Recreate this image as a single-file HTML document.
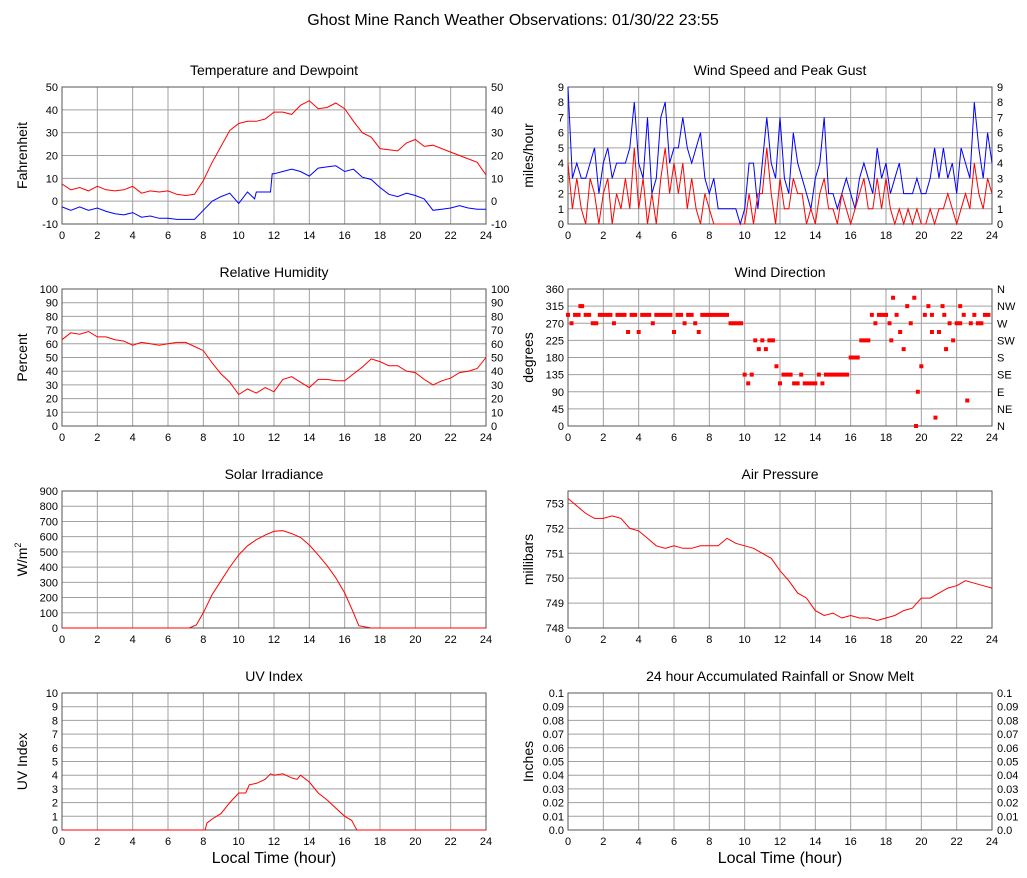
<!DOCTYPE html>
<html><head><meta charset="utf-8"><style>
body{margin:0;background:#fff;}
svg{display:block;font-family:"Liberation Sans",sans-serif;}
</style></head><body>
<svg id="c" width="1027" height="878" viewBox="0 0 1027 878" xmlns="http://www.w3.org/2000/svg">
<text x="513" y="25" font-size="16" text-anchor="middle">Ghost Mine Ranch Weather Observations: 01/30/22 23:55</text>
</svg>
<script>
// ---- data ----
const halfHours = [];
for (let i = 0; i <= 48; i++) halfHours.push(i / 2);
const quarterHours = [];
for (let i = 0; i <= 96; i++) quarterHours.push(i / 4);
const temperature = [7.5,5,6,4.5,6.5,5,4.5,5,6.5,3.5,4.5,4,4.5,3,2.5,3,9,17,24,31,34,35,35,36,39,39,38,42,44,40.5,41,43,40.5,35,30,28,23,22.5,22,25.5,27,24,24.5,23,21.5,20,18.5,17,11.5];
const dewHours = [0,0.5,1,1.5,2,2.5,3,3.5,4,4.5,5,5.5,6,6.5,7,7.5,8,8.5,9,9.5,10,10.5,10.9,11,11.5,11.8,11.9,12,12.5,13,13.5,14,14.5,15,15.5,16,16.5,17,17.5,18,18.5,19,19.5,20,20.5,21,21.5,22,22.5,23,23.5,24];
const dewpoint = [-2.5,-4,-2.5,-4,-3,-4.5,-5.5,-6,-5,-7,-6.5,-7.5,-7.5,-8,-8,-8,-4,0,2,3.5,-1,4,1,4,4,4,12,12,13,14,13,11,14.5,15,15.5,13,14,10.5,9.5,6,3,2,3.5,2.5,1,-4,-3.5,-3,-2,-3,-3.5,-3.5];
const humidity = [63,68,67,69,65,65,63,62,59,61,60,59,60,61,61,58,55,46,38,32,23,27,24,28,25,34,36,32,28,34,34,33,33,38,43,49,47,44,44,40,39,34,30,33,35,39,40,42,50];
const windGust = [9,3,4,3,3,4,5,2,4,5,3,4,4,4,5,8,4,3,7,2,3,7,8,4,5,5,7,5,4,5,6,3,2,3,1,1,1,1,1,0,1,4,4,1,4,7,4,3,7,3,2,6,4,3,2,1,3,4,7,2,2,1,2,3,2,1,3,4,3,2,5,3,4,2,3,4,2,2,2,3,2,2,3,5,3,5,3,4,2,5,4,3,8,5,3,6,4];
const windSpeed = [4,1,3,1,0,3,2,0,2,3,0,2,1,3,1,5,1,3,0,2,0,3,5,2,4,2,4,1,3,1,0,2,1,0,0,0,0,0,0,0,0,2,0,2,2,5,2,0,3,1,1,3,2,2,0,1,0,2,3,1,1,0,2,1,0,1,2,3,1,1,3,1,3,1,0,1,0,1,0,1,0,0,1,0,1,1,2,1,0,1,2,1,4,2,1,3,2];
const windDir = [292,270,292,292,315, 292,292,270,270,292, 292,292,292,270,292, 292,292,247,292,292, 247,292,292,292,270, 292,292,292,292,292, 247,292,292,270,292, 292,270,247,292,292, 292,292,292,292,292, 292,270,270,270,270, 135,112,135,225,202, 225,202,225,225,157, 112,135,135,135,112, 112,135,112,112,112, 112,135,112,135,135, 135,135,135,135,135, 180,180,180,225,225, 225,292,270,292,292, 292,270,337,292,247, 202,315,270,337,90, 157,292,315,247,22, 247,315,202,270,225, 270,315,292,67,270, 292,270,270,292,292];
const windDirExtraHours = [19.7,0.7,18.3,20.6,21.3,22.2];
const windDirExtra = [0,315,225,292,292,270];
const solarHours = [0,7.2,7.6,8,8.5,9,9.5,10,10.5,11,11.5,12,12.5,13,13.5,14,14.5,15,15.5,16,16.5,16.8,17.5,24];
const solar = [0,0,20,100,220,310,400,480,540,580,610,635,640,620,595,545,480,410,330,230,100,15,0,0];
const uvHours = [0,8.1,8.2,8.5,9,9.5,10,10.4,10.6,11,11.5,11.8,12,12.5,13,13.3,13.5,14,14.5,15,15.5,16,16.4,16.6,16.7,24];
const uv = [0,0,0.5,0.8,1.2,2,2.7,2.7,3.3,3.4,3.7,4.1,4.0,4.1,3.8,3.7,4.0,3.5,2.7,2.2,1.6,1.0,0.7,0.2,0,0];
const pressure = [753.2,752.9,752.6,752.4,752.4,752.5,752.4,752,751.9,751.6,751.3,751.2,751.3,751.2,751.2,751.3,751.3,751.3,751.6,751.4,751.3,751.2,751.0,750.8,750.3,749.9,749.4,749.2,748.7,748.5,748.6,748.4,748.5,748.4,748.4,748.3,748.4,748.5,748.7,748.8,749.2,749.2,749.4,749.6,749.7,749.9,749.8,749.7,749.6];
const xTicks = [0,2,4,6,8,10,12,14,16,18,20,22,24];
const tempTicks = [-10,0,10,20,30,40,50];
const windTicks = [0,1,2,3,4,5,6,7,8,9];
const humTicks = [0,10,20,30,40,50,60,70,80,90,100];
const dirTicks = [0,45,90,135,180,225,270,315,360];
const dirLabels = ['N','NE','E','SE','S','SW','W','NW','N'];
const solarTicks = [0,100,200,300,400,500,600,700,800,900];
const pressTicks = [748,749,750,751,752,753];
const uvTicks = [0,1,2,3,4,5,6,7,8,9,10];
const rainTicks = [0,0.01,0.02,0.03,0.04,0.05,0.06,0.07,0.08,0.09,0.1];
const rainLabels = ['0.0','0.01','0.02','0.03','0.04','0.05','0.06','0.07','0.08','0.09','0.1'];

// ---- drawing ----
const NS = 'http://www.w3.org/2000/svg';
const svg = document.getElementById('c');
function mk(tag, attrs, parent) {
  const e = document.createElementNS(NS, tag);
  for (const k in attrs) e.setAttribute(k, attrs[k]);
  (parent || svg).appendChild(e);
  return e;
}
function panel(o) {
  const g = mk('g', {});
  
  
  const L = o.left, R = o.left + 424, T = o.top, B = o.top + 137;
  const xs = h => L + h / 24 * (R - L);
  const ys = v => B - (v - o.ymin) / (o.ymax - o.ymin) * (B - T);
  const t = mk('text', {x: (L + R) / 2, y: T - 12, 'font-size': 14, 'text-anchor': 'middle'}, g);
  t.textContent = o.title;
  
  
  xTicks.forEach(h => {
    const ln = mk('line', {x1: xs(h), x2: xs(h), y1: T, y2: B, stroke: '#a0a0a0', 'stroke-width': 1}, g);
    
    
    const tx = mk('text', {x: xs(h), y: B + 15, 'font-size': 11, 'text-anchor': 'middle'}, g);
    tx.textContent = h;
    
    
  });
  o.ticks.forEach((v, i) => {
    const ln = mk('line', {x1: L, x2: R, y1: ys(v), y2: ys(v), stroke: '#a0a0a0', 'stroke-width': 1}, g);
    
    
    const tx = mk('text', {x: L - 4, y: ys(v) + 4, 'font-size': 11, 'text-anchor': 'end'}, g);
    tx.textContent = o.leftLabels ? o.leftLabels[i] : v;
    
    
    if (o.right) {
      const tr = mk('text', {x: R + 5, y: ys(v) + 4, 'font-size': 11, 'text-anchor': 'start'}, g);
      tr.textContent = o.right[i];
      
      
    }
  });
  const fr = mk('rect', {x: L, y: T, width: R - L, height: B - T, fill: 'none', stroke: '#555', 'stroke-width': 1}, g);
  
  
  const yt = mk('text', {x: 0, y: 0, 'font-size': 14, 'text-anchor': 'middle', transform: `translate(${L - 35},${(T + B) / 2}) rotate(-90)`}, g);
  if (o.ylabelHTML) {
    yt.textContent = 'W/m';
    const sp = mk('tspan', {'font-size': 9, dy: -6}, yt);
    sp.textContent = '2';
  } else yt.textContent = o.ylabel;
  
  
  if (o.xlabel) {
    const xt = mk('text', {x: (L + R) / 2, y: B + 33, 'font-size': 16, 'text-anchor': 'middle'}, g);
    xt.textContent = 'Local Time (hour)';
    
    
  }
  (o.series || []).forEach(s => {
    const d = s.h.map((h, i) => (i ? 'L' : 'M') + xs(h).toFixed(1) + ',' + ys(s.v[i]).toFixed(1)).join('');
    const p = mk('path', {d: d, fill: 'none', stroke: s.c, 'stroke-width': 1}, g);
    
    
  });
  (o.dots || []).forEach(s => {
    s.h.forEach((h, i) => {
      const r = mk('rect', {x: xs(h) - 2, y: ys(s.v[i]) - 2, width: 4, height: 4, fill: '#f00'}, g);
      
      
    });
  });
}
const dirHours = windDir.map((_, i) => i * 0.2);
panel({name: 'temperature-chart', title: 'Temperature and Dewpoint', left: 62, top: 87, ymin: -10, ymax: 50, ticks: tempTicks, right: tempTicks, ylabel: 'Fahrenheit',
  series: [{h: halfHours, v: temperature, c: '#f00', n: 'temperature-line'}, {h: dewHours, v: dewpoint, c: '#00f', n: 'dewpoint-line'}]});
panel({name: 'wind-speed-chart', title: 'Wind Speed and Peak Gust', left: 568, top: 87, ymin: 0, ymax: 9, ticks: windTicks, right: windTicks, ylabel: 'miles/hour',
  series: [{h: quarterHours, v: windGust, c: '#00f', n: 'gust-line'}, {h: quarterHours, v: windSpeed, c: '#f00', n: 'speed-line'}]});
panel({name: 'humidity-chart', title: 'Relative Humidity', left: 62, top: 289, ymin: 0, ymax: 100, ticks: humTicks, right: humTicks, ylabel: 'Percent',
  series: [{h: halfHours, v: humidity, c: '#f00', n: 'humidity-line'}]});
panel({name: 'wind-direction-chart', title: 'Wind Direction', left: 568, top: 289, ymin: 0, ymax: 360, ticks: dirTicks, right: dirLabels, ylabel: 'degrees',
  dots: [{h: dirHours, v: windDir}, {h: windDirExtraHours, v: windDirExtra}]});
panel({name: 'solar-chart', title: 'Solar Irradiance', left: 62, top: 491, ymin: 0, ymax: 900, ticks: solarTicks, ylabelHTML: true,
  series: [{h: solarHours, v: solar, c: '#f00', n: 'solar-line'}]});
panel({name: 'pressure-chart', title: 'Air Pressure', left: 568, top: 491, ymin: 748, ymax: 753.5, ticks: pressTicks, ylabel: 'millibars',
  series: [{h: halfHours, v: pressure, c: '#f00', n: 'pressure-line'}]});
panel({name: 'uv-chart', title: 'UV Index', left: 62, top: 693, ymin: 0, ymax: 10, ticks: uvTicks, ylabel: 'UV Index', xlabel: true,
  series: [{h: uvHours, v: uv, c: '#f00', n: 'uv-line'}]});
panel({name: 'rain-chart', title: '24 hour Accumulated Rainfall or Snow Melt', left: 568, top: 693, ymin: 0, ymax: 0.1, ticks: rainTicks, leftLabels: rainLabels, right: rainLabels, ylabel: 'Inches', xlabel: true});
</script>
</body></html>
